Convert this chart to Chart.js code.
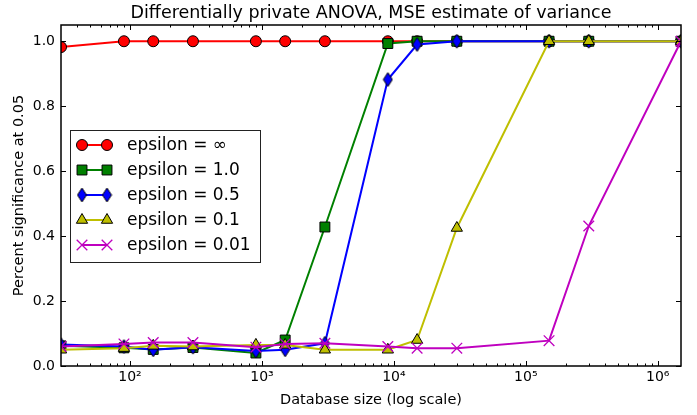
<!DOCTYPE html>
<html><head><meta charset="utf-8">
<script src="https://cdn.jsdelivr.net/npm/chart.js@4/dist/chart.umd.min.js"></script>
<style>html,body{margin:0;padding:0;background:#fff}#wrap{width:697px;height:415px}</style>
</head><body><div id="wrap"><canvas id="c" width="697" height="415"></canvas></div>
<script>
// ---- data ----
const dbSizes   = [30, 90, 150, 300, 900, 1500, 3000, 9000, 15000, 30000, 150000, 300000, 1500000];
const epsInf    = [0.982, 1, 1, 1, 1, 1, 1, 1, 1, 1, 1, 1, 1];
const eps1_0    = [0.062, 0.056, 0.051, 0.057, 0.040, 0.080, 0.428, 0.993, 1, 1, 1, 1, 1];
const eps0_5    = [0.066, 0.060, 0.050, 0.058, 0.046, 0.050, 0.070, 0.882, 0.990, 1, 1, 1, 1];
const eps0_1    = [0.050, 0.055, 0.062, 0.060, 0.065, 0.065, 0.050, 0.050, 0.080, 0.425, 1, 1, 1];
const eps0_01   = [0.060, 0.068, 0.072, 0.072, 0.058, 0.068, 0.070, 0.060, 0.055, 0.055, 0.078, 0.431, 1];
const seriesLabels = ['epsilon = \u221E', 'epsilon = 1.0', 'epsilon = 0.5', 'epsilon = 0.1', 'epsilon = 0.01'];
const yTicks = [0, 0.2, 0.4, 0.6, 0.8, 1.0];
const xTicks = [100, 1000, 10000, 100000, 1000000];
const xTickLabels = ['10\u00B2', '10\u00B3', '10\u2074', '10\u2075', '10\u2076'];
const chartTitle = 'Differentially private ANOVA, MSE estimate of variance';
const xTitle = 'Database size (log scale)';
const yTitle = 'Percent significance at 0.05';

Chart.defaults.font.family = "'DejaVu Sans', sans-serif";
Chart.defaults.color = '#000';

function thinDiamond(w, h, fill) {
  const c = document.createElement('canvas');
  c.width = w + 2; c.height = h + 2;
  const g = c.getContext('2d');
  g.beginPath();
  g.moveTo((w + 2) / 2, 1); g.lineTo(w + 1, (h + 2) / 2);
  g.lineTo((w + 2) / 2, h + 1); g.lineTo(1, (h + 2) / 2);
  g.closePath();
  g.fillStyle = fill; g.fill();
  g.lineWidth = 1; g.strokeStyle = '#000'; g.stroke();
  return c;
}

const styles = [
  {color: '#ff0000', pointStyle: 'circle', radius: 5.5, pbc: '#000', pbw: 1},
  {color: '#008000', pointStyle: 'rect', radius: 7, pbc: '#000', pbw: 1},
  {color: '#0000ff', pointStyle: thinDiamond(9, 14, '#0000ff'), radius: 7, pbc: '#000', pbw: 1},
  {color: '#bfbf00', pointStyle: 'triangle', radius: 6.5, pbc: '#000', pbw: 1},
  {color: '#bf00bf', pointStyle: 'crossRot', radius: 7.5, pbc: '#bf00bf', pbw: 1.3}
];
const seriesValues = [epsInf, eps1_0, eps0_5, eps0_1, eps0_01];

const datasets = seriesValues.map((vals, k) => ({
  label: seriesLabels[k],
  data: dbSizes.map((x, i) => ({x: x, y: vals[i]})),
  borderColor: styles[k].color,
  backgroundColor: styles[k].color,
  borderWidth: 2,
  pointStyle: styles[k].pointStyle,
  pointRadius: styles[k].radius,
  pointHoverRadius: styles[k].radius,
  pointBackgroundColor: styles[k].color,
  pointBorderColor: styles[k].pbc,
  pointBorderWidth: styles[k].pbw,
  tension: 0,
  clip: 0,
  order: seriesValues.length - k
}));

const decor = {
  id: 'decor',
  afterDatasetsDraw(chart) {
    const {ctx, chartArea: a, scales: {x, y}} = chart;
    ctx.save();
    ctx.strokeStyle = '#000';
    ctx.lineWidth = 1;
    const maj = 5, mnr = 2.5;
    ctx.beginPath();
    const vtick = (v, len) => {
      const px = Math.round(x.getPixelForValue(v)) + 0.5;
      ctx.moveTo(px, a.bottom); ctx.lineTo(px, a.bottom - len);
      ctx.moveTo(px, a.top); ctx.lineTo(px, a.top + len);
    };
    xTicks.forEach(v => vtick(v, maj));
    for (let d = 10; d <= 1e6; d *= 10) {
      for (let m = 2; m <= 9; m++) {
        const v = d * m;
        if (v > x.min && v < x.max) vtick(v, mnr);
      }
    }
    yTicks.forEach(v => {
      const py = Math.round(y.getPixelForValue(v)) + 0.5;
      ctx.moveTo(a.left, py); ctx.lineTo(a.left + maj, py);
      ctx.moveTo(a.right, py); ctx.lineTo(a.right - maj, py);
    });
    ctx.stroke();
    ctx.lineWidth = 1.5;
    ctx.strokeRect(a.left, a.top, a.right - a.left, a.bottom - a.top);

    // legend
    const lx = a.left + 9, ly = a.top + 105, lw = 190, lh = 132;
    ctx.fillStyle = '#fff';
    ctx.fillRect(lx, ly, lw, lh);
    ctx.lineWidth = 1;
    ctx.strokeStyle = '#222';
    ctx.strokeRect(lx + 0.5, ly + 0.5, lw, lh);
    ctx.font = "17px 'DejaVu Sans'";
    ctx.textBaseline = 'middle';
    ctx.textAlign = 'left';
    chart.data.datasets.forEach((ds, k) => {
      const rowY = ly + 15 + k * 25;
      const x1 = lx + 12, x2 = lx + 37;
      ctx.strokeStyle = ds.borderColor;
      ctx.lineWidth = 2;
      ctx.beginPath(); ctx.moveTo(x1, rowY); ctx.lineTo(x2, rowY); ctx.stroke();
      const opts = {pointStyle: ds.pointStyle, rotation: 0, radius: ds.pointRadius, borderWidth: ds.pointBorderWidth};
      [x1, x2].forEach(px => {
        ctx.fillStyle = ds.pointBackgroundColor;
        ctx.strokeStyle = ds.pointBorderColor;
        ctx.lineWidth = ds.pointBorderWidth;
        Chart.helpers.drawPoint(ctx, opts, px, rowY);
      });
      ctx.fillStyle = '#000';
      ctx.fillText(ds.label, lx + 57, rowY + 1);
    });
    ctx.restore();
  }
};

new Chart(document.getElementById('c'), {
  type: 'line',
  data: {datasets},
  plugins: [decor],
  options: {
    responsive: false,
    animation: false,
    events: [],
    layout: {padding: {left: 0, right: 16, top: 0, bottom: 0}},
    plugins: {
      legend: {display: false},
      tooltip: {enabled: false},
      title: {
        display: true, text: chartTitle, fullSize: false,
        font: {size: 17.5, weight: 'normal'}, color: '#000',
        padding: {top: 2.5, bottom: 1.5}
      }
    },
    scales: {
      x: {
        type: 'logarithmic', min: 30, max: 1500000, bounds: 'data',
        afterBuildTicks: s => { s.ticks = xTicks.map(v => ({value: v, major: true})); },
        afterFit: s => { s.height = 49; },
        ticks: {
          autoSkip: false, maxRotation: 0, padding: 3,
          font: {size: 14}, color: '#000',
          callback: v => { const i = xTicks.indexOf(v); return i >= 0 ? xTickLabels[i] : ''; }
        },
        grid: {display: false, drawTicks: false},
        border: {display: false},
        title: {display: true, text: xTitle, font: {size: 14.5}, color: '#000', padding: {top: 0, bottom: 6.5}}
      },
      y: {
        type: 'linear', min: 0, max: 1.05,
        afterBuildTicks: s => { s.ticks = yTicks.map(v => ({value: v})); },
        afterFit: s => { s.width = 61; },
        ticks: {
          padding: 6, font: {size: 14}, color: '#000',
          callback: v => Number(v).toFixed(1)
        },
        grid: {display: false, drawTicks: false},
        border: {display: false},
        title: {display: true, text: yTitle, font: {size: 14.5}, color: '#000', padding: {top: 11, bottom: 0}}
      }
    }
  }
});
</script>
</body></html>
